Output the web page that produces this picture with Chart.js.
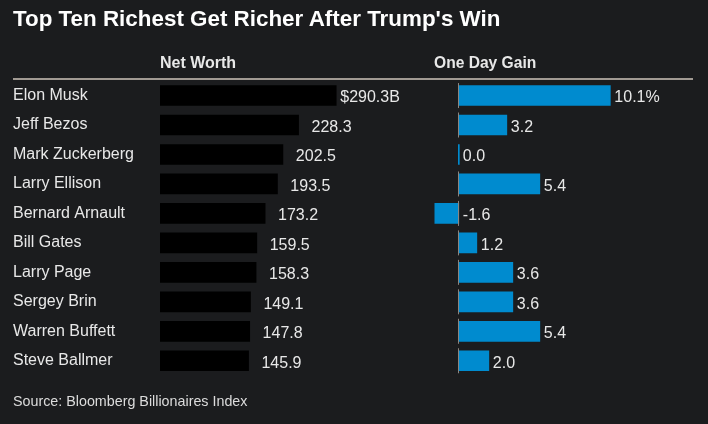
<!DOCTYPE html>
<html>
<head>
<meta charset="utf-8">
<script src="https://cdn.jsdelivr.net/npm/chart.js@4"></script>
<style>
  html, body { margin:0; padding:0; background:#1b1c1e; }
  #wrap { position:relative; width:708px; height:424px; background:#1b1c1e; overflow:hidden; font-family:"Liberation Sans", Arial, sans-serif; }
  canvas { position:absolute; left:0; top:0; }
  .t { position:absolute; white-space:nowrap; }
  #title { left:13px; top:7.8px; font-size:22.4px; line-height:22.4px; font-weight:bold; color:#ffffff; }
  .hdr { top:54.5px; font-size:16px; line-height:16px; font-weight:bold; color:#e8e8e8; }
  #h1 { left:160px; }
  #h2 { left:434px; font-size:15.6px; }
  #sep { position:absolute; left:13px; top:78px; width:680px; height:2px; background:#a19a93; }
  #src { left:13px; top:393.8px; font-size:14.3px; line-height:14.3px; color:#dcdcdc; }
</style>
</head>
<body>
<div id="wrap">
  <canvas id="c" width="708" height="424"></canvas>
  <div id="title" class="t">Top Ten Richest Get Richer After Trump's Win</div>
  <div id="h1" class="t hdr">Net Worth</div>
  <div id="h2" class="t hdr">One Day Gain</div>
  <div id="sep"></div>
  <div id="src" class="t">Source: Bloomberg Billionaires Index</div>
</div>
<script>
const names = ["Elon Musk","Jeff Bezos","Mark Zuckerberg","Larry Ellison","Bernard Arnault","Bill Gates","Larry Page","Sergey Brin","Warren Buffett","Steve Ballmer"];
const netWorth = [290.3, 228.3, 202.5, 193.5, 173.2, 159.5, 158.3, 149.1, 147.8, 145.9];
const oneDayGain = [10.1, 3.2, 0.0, 5.4, -1.6, 1.2, 3.6, 3.6, 5.4, 2.0];

const FONT = '"Liberation Sans", Arial, sans-serif';
const BLUE = '#008bcf';

const overlay = {
  id: 'overlay',
  afterDatasetsDraw(chart) {
    const ctx = chart.ctx;
    const y = chart.scales.y, x = chart.scales.x, x2 = chart.scales.x2;
    ctx.save();
    // zero ticks in the gain panel
    const zx = Math.round(x2.getPixelForValue(0)) - 0.5;
    ctx.strokeStyle = '#8c8680';
    ctx.lineWidth = 1;
    oneDayGain.forEach((v, i) => {
      if (v === 0) return;
      const cy = y.getPixelForValue(i);
      ctx.beginPath();
      ctx.moveTo(zx, cy - 12.5);
      ctx.lineTo(zx, cy + 12.5);
      ctx.stroke();
    });
    // value labels
    ctx.font = '16px ' + FONT;
    ctx.fillStyle = '#e8e8e8';
    ctx.textAlign = 'left';
    ctx.textBaseline = 'alphabetic';
    const dollarW = ctx.measureText('$').width;
    netWorth.forEach((v, i) => {
      const cy = y.getPixelForValue(i);
      const end = x.getPixelForValue(v);
      const txt = i === 0 ? '$' + v.toFixed(1) + 'B' : v.toFixed(1);
      const px = end + 4 + (i === 0 ? 0 : dollarW);
      ctx.fillText(txt, px, cy + 6.8);
    });
    oneDayGain.forEach((v, i) => {
      const cy = y.getPixelForValue(i);
      const end = x2.getPixelForValue(Math.max(v, 0));
      const txt = v.toFixed(1) + (i === 0 ? '%' : '');
      ctx.fillText(txt, end + 4, cy + 6.8);
    });
    ctx.restore();
  }
};

new Chart(document.getElementById('c'), {
  type: 'bar',
  data: {
    labels: names,
    datasets: [
      { label: 'Net Worth', data: netWorth, xAxisID: 'x', backgroundColor: '#000000', barThickness: 20, grouped: false },
      { label: 'One Day Gain', data: oneDayGain, xAxisID: 'x2', backgroundColor: BLUE, barThickness: 20, grouped: false, minBarLength: 1 }
    ]
  },
  options: {
    indexAxis: 'y',
    responsive: false,
    animation: false,
    devicePixelRatio: 1,
    layout: { padding: { left: 13, right: 15, top: 80.8, bottom: 48.5 } },
    plugins: { legend: { display: false }, tooltip: { enabled: false }, title: { display: false } },
    scales: {
      x: { type: 'linear', display: false, min: 0, max: 878 },
      x2: { type: 'linear', display: false, min: -19.92, max: 15.61 },
      y: {
        type: 'category',
        position: 'left',
        grid: { display: false },
        border: { display: false },
        ticks: { color: '#e8e8e8', font: { family: FONT, size: 16 }, crossAlign: 'far', padding: 0 },
        afterFit(scale) { scale.width = 147; }
      }
    }
  },
  plugins: [overlay]
});
</script>
</body>
</html>
